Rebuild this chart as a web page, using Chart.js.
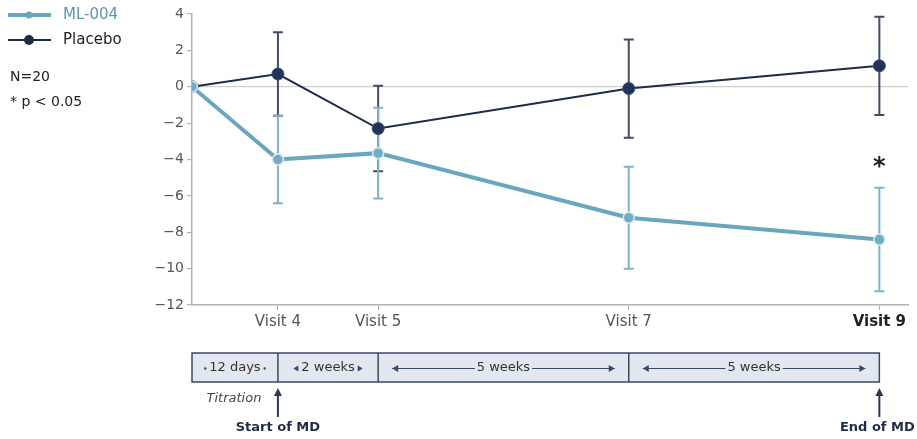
<!DOCTYPE html>
<html lang="en">
  <head>
    <meta charset="UTF-8" />
    <title>ML-004 vs Placebo</title>
    <script src="https://cdn.jsdelivr.net/npm/chart.js"></script>
    <style>
      body { margin: 0; background: #fff; }
      #wrap { width: 917px; height: 439px; }
    </style>
  </head>
  <body>
    <div id="wrap"><canvas id="chart" width="917" height="439"></canvas></div>

  <script>
    // study days of each visit (baseline, visit 4, 5, 7, 9)
    const days = [0, 12, 26, 61, 96];
    const visitLabels = { 12: "Visit 4", 26: "Visit 5", 61: "Visit 7", 96: "Visit 9" };

    const mlMean = [0, -4.0, -3.65, -7.2, -8.4];
    const mlErr = [0, 2.4, 2.5, 2.8, 2.85];
    const pboMean = [0, 0.7, -2.3, -0.1, 1.15];
    const pboErr = [0, 2.3, 2.35, 2.7, 2.7];

    // timeline segments below the chart
    const segBounds = [0, 12, 26, 61, 96];
    const segLabels = ["12 days", "2 weeks", "5 weeks", "5 weeks"];

    const ML_COLOR = "#6aa6bd";
    const PBO_COLOR = "#1e2c48";
    const FONT = "DejaVu Sans";

    const toPoints = (ys) => ys.map((y, i) => ({ x: days[i], y: y }));

    function arrowHead(ctx, x, y, dir, size) {
      ctx.beginPath();
      ctx.moveTo(x, y);
      ctx.lineTo(x - dir * size, y - size * 0.6);
      ctx.lineTo(x - dir * size, y + size * 0.6);
      ctx.closePath();
      ctx.fill();
    }

    const errorBars = {
      id: "errorBars",
      beforeDatasetsDraw(chart) {
        const ctx = chart.ctx;
        const xs = chart.scales.x, ys = chart.scales.y;
        const sets = [
          { mean: pboMean, err: pboErr, color: "#434c66" },
          { mean: mlMean, err: mlErr, color: "#7fb4c8" },
        ];
        ctx.save();
        sets.forEach((s) => {
          ctx.strokeStyle = s.color;
          ctx.lineWidth = 2;
          s.mean.forEach((m, i) => {
            if (!s.err[i]) return;
            const x = xs.getPixelForValue(days[i]);
            const top = ys.getPixelForValue(m + s.err[i]);
            const bot = ys.getPixelForValue(m - s.err[i]);
            ctx.beginPath();
            ctx.moveTo(x, top); ctx.lineTo(x, bot);
            ctx.moveTo(x - 5, top); ctx.lineTo(x + 5, top);
            ctx.moveTo(x - 5, bot); ctx.lineTo(x + 5, bot);
            ctx.stroke();
          });
        });
        ctx.restore();
      },
    };

    const extras = {
      id: "extras",
      afterDraw(chart) {
        const ctx = chart.ctx;
        const xs = chart.scales.x, ys = chart.scales.y;
        ctx.save();

        // legend
        const legend = [
          { label: "ML-004", color: ML_COLOR, text: "#5a97b2", lw: 4, r: 3.5, y: 15 },
          { label: "Placebo", color: PBO_COLOR, text: "#222", lw: 2, r: 5, y: 40 },
        ];
        legend.forEach((l) => {
          ctx.strokeStyle = l.color;
          ctx.lineWidth = l.lw;
          ctx.beginPath();
          ctx.moveTo(8, l.y); ctx.lineTo(51, l.y);
          ctx.stroke();
          ctx.fillStyle = l.color;
          ctx.beginPath();
          ctx.arc(29, l.y, l.r, 0, Math.PI * 2);
          ctx.fill();
          ctx.fillStyle = l.text;
          ctx.font = "15px " + FONT;
          ctx.textAlign = "left";
          ctx.textBaseline = "middle";
          ctx.fillText(l.label, 63, l.y);
        });
        ctx.fillStyle = "#222";
        ctx.font = "14px " + FONT;
        ctx.fillText("N=20", 10, 77);
        ctx.fillText("* p < 0.05", 10, 102);

        // significance mark
        ctx.font = "bold 24px " + FONT;
        ctx.textAlign = "center";
        ctx.fillText("*", xs.getPixelForValue(96), 168);

        // timeline box
        const top = 353, bot = 382, mid = (top + bot) / 2;
        const x0 = xs.getPixelForValue(segBounds[0]);
        const x1 = xs.getPixelForValue(segBounds[segBounds.length - 1]);
        ctx.fillStyle = "#e3e8f0";
        ctx.fillRect(x0, top, x1 - x0, bot - top);
        ctx.strokeStyle = "#3a4868";
        ctx.lineWidth = 1.5;
        ctx.strokeRect(x0, top, x1 - x0, bot - top);
        ctx.beginPath();
        segBounds.slice(1, -1).forEach((d) => {
          const x = xs.getPixelForValue(d);
          ctx.moveTo(x, top); ctx.lineTo(x, bot);
        });
        ctx.stroke();

        ctx.font = "13px " + FONT;
        ctx.textBaseline = "middle";
        segLabels.forEach((lab, i) => {
          const a = xs.getPixelForValue(segBounds[i]);
          const b = xs.getPixelForValue(segBounds[i + 1]);
          const c = (a + b) / 2;
          ctx.fillStyle = "#333";
          ctx.textAlign = "center";
          const w = ctx.measureText(lab).width;
          ctx.fillText(lab, c, mid);
          ctx.strokeStyle = "#3a4868";
          ctx.fillStyle = "#3a4868";
          ctx.lineWidth = 1;
          if (i === 0) {
            ctx.beginPath();
            ctx.arc(c - w / 2 - 4, mid + 1, 1.2, 0, Math.PI * 2);
            ctx.arc(c + w / 2 + 4, mid + 1, 1.2, 0, Math.PI * 2);
            ctx.fill();
          } else if (i === 1) {
            arrowHead(ctx, c - w / 2 - 8, mid + 1, -1, 5);
            arrowHead(ctx, c + w / 2 + 8, mid + 1, 1, 5);
          } else {
            const l = a + 14, r = b - 14;
            ctx.beginPath();
            ctx.moveTo(l, mid + 1); ctx.lineTo(c - w / 2 - 2, mid + 1);
            ctx.moveTo(c + w / 2 + 2, mid + 1); ctx.lineTo(r, mid + 1);
            ctx.stroke();
            arrowHead(ctx, l, mid + 1, -1, 6);
            arrowHead(ctx, r, mid + 1, 1, 6);
          }
        });

        // start / end markers
        ctx.strokeStyle = "#2a3856";
        ctx.fillStyle = "#2a3856";
        ctx.lineWidth = 2;
        [12, 96].forEach((d) => {
          const x = xs.getPixelForValue(d);
          ctx.beginPath();
          ctx.moveTo(x, 417); ctx.lineTo(x, 394);
          ctx.stroke();
          ctx.beginPath();
          ctx.moveTo(x, 388); ctx.lineTo(x - 4, 396); ctx.lineTo(x + 4, 396);
          ctx.closePath();
          ctx.fill();
        });
        ctx.fillStyle = "#444";
        ctx.font = "italic 13px " + FONT;
        ctx.textAlign = "center";
        ctx.fillText("Titration", xs.getPixelForValue(6) - 1, 399);
        ctx.fillStyle = "#1e2c48";
        ctx.font = "bold 13px " + FONT;
        ctx.fillText("Start of MD", xs.getPixelForValue(12), 428);
        ctx.fillText("End of MD", xs.getPixelForValue(96) - 2, 428);

        ctx.restore();
      },
    };

    new Chart(document.getElementById("chart"), {
      type: "line",
      data: {
        datasets: [
          {
            label: "ML-004",
            data: toPoints(mlMean),
            borderColor: ML_COLOR,
            borderWidth: 4,
            pointRadius: 5.5,
            pointBackgroundColor: "#74adc3",
            pointBorderColor: "#d9eaf1",
            pointBorderWidth: 1.5,
            tension: 0,
          },
          {
            label: "Placebo",
            data: toPoints(pboMean),
            borderColor: PBO_COLOR,
            borderWidth: 2,
            pointRadius: 6,
            pointBackgroundColor: "#22335a",
            pointBorderColor: "#3b4a6c",
            pointBorderWidth: 1,
            tension: 0,
          },
        ],
      },
      options: {
        responsive: false,
        animation: false,
        events: [],
        layout: { padding: { left: 0, top: 14, right: 9, bottom: 0 } },
        plugins: { legend: { display: false }, tooltip: { enabled: false } },
        scales: {
          x: {
            type: "linear",
            min: 0,
            max: 100,
            afterFit: (s) => { s.height = 134; },
            afterBuildTicks: (s) => {
              s.ticks = Object.keys(visitLabels).map((v) => ({ value: +v }));
            },
            border: { color: "#b3b3b3", width: 1.5 },
            grid: { drawOnChartArea: false, tickLength: 5, color: "#b3b3b3" },
            ticks: {
              padding: 3,
              color: (c) => (c.tick && c.tick.value === 96 ? "#222" : "#555"),
              font: (c) => ({
                family: FONT,
                size: 15,
                weight: c.tick && c.tick.value === 96 ? "bold" : "normal",
              }),
              callback: (v) => visitLabels[v] || "",
            },
          },
          y: {
            min: -12,
            max: 4,
            afterFit: (s) => { s.width = 192; },
            border: { color: "#b3b3b3", width: 1.5 },
            grid: {
              tickLength: 5,
              color: (c) => (c.tick && c.tick.value === 0 ? "#d0d0d0" : "rgba(0,0,0,0)"),
              tickColor: "#b3b3b3",
              lineWidth: 1.2,
            },
            ticks: {
              stepSize: 2,
              padding: 3,
              color: "#555",
              font: { family: FONT, size: 14 },
              callback: (v) => (v < 0 ? "\u2212" + Math.abs(v) : v),
            },
          },
        },
      },
      plugins: [errorBars, extras],
    });
  </script>
  </body>
</html>
